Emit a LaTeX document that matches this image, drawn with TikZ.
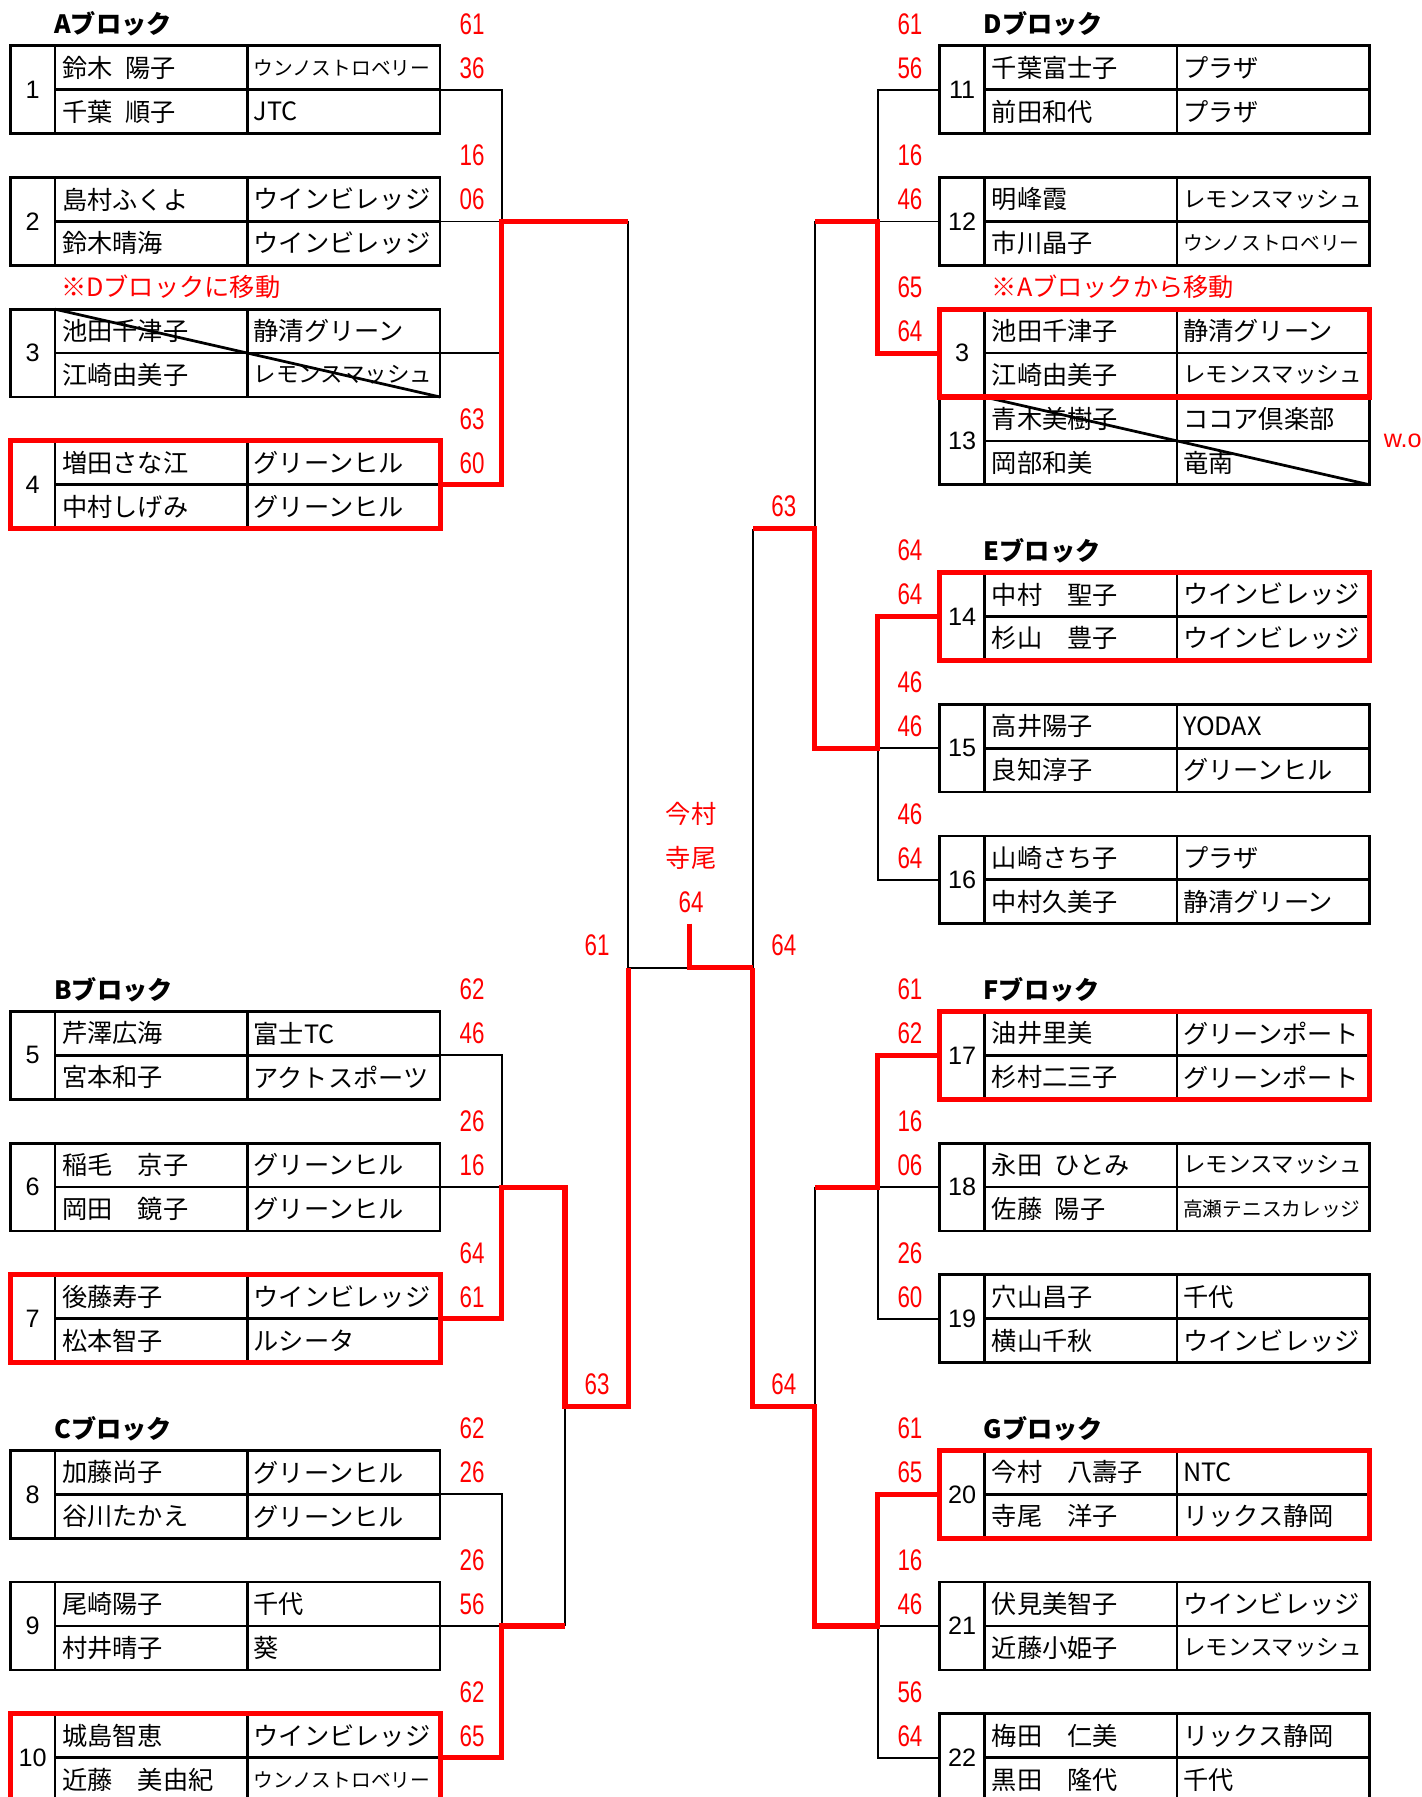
\documentclass[tikz,border=0pt]{standalone}
\usepackage{fontspec}
\setmainfont{Noto Sans CJK JP}
\newfontfamily\scorefont[FakeStretch=0.75]{Liberation Sans}
\newfontfamily\numfont{Liberation Sans}

\tikzset{
  boxline/.style={line width=1.2pt, black},
  tree/.style={line width=0.8pt, black},
  win/.style={line width=2.2pt, red},
  winbox/.style={line width=2.2pt, red},
  nametxt/.style={anchor=west, inner sep=0pt, font=\fontsize{11}{12}\selectfont},
  clubtxt/.style={anchor=west, inner sep=0pt, font=\fontsize{11}{12}\selectfont},
  numtxt/.style={inner sep=0pt, font=\numfont\fontsize{11}{12}\selectfont},
  score/.style={inner sep=0pt, text=red, font=\scorefont\fontsize{13}{14}\selectfont},
  blockhead/.style={anchor=west, inner sep=0pt, font=\bfseries\fontsize{11}{12}\selectfont},
  note/.style={anchor=west, inner sep=0pt, text=red, font=\fontsize{11}{12}\selectfont},
}

\newcommand{\clubS}{\fontsize{8.6}{9}\selectfont}
\newcommand{\clubM}{\fontsize{9.8}{10}\selectfont}
\newcommand{\gap}{\hspace{0.5em}}

% one pair: id, left x, top row, number, name/club (1st), name/club (2nd)
\newcommand{\entry}[8]{%
  \draw[boxline] (#2,#3) rectangle (#2+375,#3+2);
  \draw[boxline] (#2+39,#3) -- (#2+39,#3+2)
                 (#2+207,#3) -- (#2+207,#3+2)
                 (#2+39,#3+1) -- (#2+375,#3+1);
  \node[numtxt] (#1-no) at (#2+19.5,#3+1) {#4};
  \node[nametxt] (#1-a) at (#2+45,#3+0.5) {#5};
  \node[clubtxt] (#1-ac) at (#2+212,#3+0.5) {#6};
  \node[nametxt] (#1-b) at (#2+45,#3+1.5) {#7};
  \node[clubtxt] (#1-bc) at (#2+212,#3+1.5) {#8};
  \coordinate (#1-nw) at (#2,#3);
  \coordinate (#1-in) at (#2+39,#3);
  \coordinate (#1-se) at (#2+375,#3+2);
  \coordinate (#1-w) at (#2,#3+1);
  \coordinate (#1-e) at (#2+375,#3+1);
}

\begin{document}
\begin{tikzpicture}[x=0.5pt, y=-19.15pt]

    \useasboundingbox (0,-1.0444) rectangle (1240.8,39.896);

    % Block headers
    \node[blockhead] (hA) at (47,-0.5) {Aブロック};
    \node[blockhead] (hB) at (47,21.5) {Bブロック};
    \node[blockhead] (hC) at (47,31.5) {Cブロック};
    \node[blockhead] (hD) at (858,-0.5) {Dブロック};
    \node[blockhead] (hE) at (858,11.5) {Eブロック};
    \node[blockhead] (hF) at (858,21.5) {Fブロック};
    \node[blockhead] (hG) at (858,31.5) {Gブロック};

    % Left side pairs
    \entry{p1}{9}{0}{1}{鈴木\gap 陽子}{{\clubS ウンノストロベリー}}{千葉\gap 順子}{JTC}
    \entry{p2}{9}{3}{2}{島村ふくよ}{ウインビレッジ}{鈴木晴海}{ウインビレッジ}
    \entry{p3}{9}{6}{3}{池田千津子}{静清グリーン}{江崎由美子}{{\clubM レモンスマッシュ}}
    \entry{p4}{9}{9}{4}{増田さな江}{グリーンヒル}{中村しげみ}{グリーンヒル}
    \entry{p5}{9}{22}{5}{芹澤広海}{富士TC}{宮本和子}{アクトスポーツ}
    \entry{p6}{9}{25}{6}{稲毛　京子}{グリーンヒル}{岡田　鏡子}{グリーンヒル}
    \entry{p7}{9}{28}{7}{後藤寿子}{ウインビレッジ}{松本智子}{ルシータ}
    \entry{p8}{9}{32}{8}{加藤尚子}{グリーンヒル}{谷川たかえ}{グリーンヒル}
    \entry{p9}{9}{35}{9}{尾崎陽子}{千代}{村井晴子}{葵}
    \entry{p10}{9}{38}{10}{城島智恵}{ウインビレッジ}{近藤　美由紀}{{\clubS ウンノストロベリー}}

    % Right side pairs
    \entry{p11}{820}{0}{11}{千葉富士子}{プラザ}{前田和代}{プラザ}
    \entry{p12}{820}{3}{12}{明峰霞}{{\clubM レモンスマッシュ}}{市川晶子}{{\clubS ウンノストロベリー}}
    \entry{p3r}{820}{6}{3}{池田千津子}{静清グリーン}{江崎由美子}{{\clubM レモンスマッシュ}}
    \entry{p13}{820}{8}{13}{青木美樹子}{ココア倶楽部}{岡部和美}{竜南}
    \entry{p14}{820}{12}{14}{中村　聖子}{ウインビレッジ}{杉山　豊子}{ウインビレッジ}
    \entry{p15}{820}{15}{15}{高井陽子}{YODAX}{良知淳子}{グリーンヒル}
    \entry{p16}{820}{18}{16}{山崎さち子}{プラザ}{中村久美子}{静清グリーン}
    \entry{p17}{820}{22}{17}{油井里美}{グリーンポート}{杉村二三子}{グリーンポート}
    \entry{p18}{820}{25}{18}{永田\gap ひとみ}{{\clubM レモンスマッシュ}}{佐藤\gap 陽子}{{\clubS 高瀬テニスカレッジ}}
    \entry{p19}{820}{28}{19}{穴山昌子}{千代}{横山千秋}{ウインビレッジ}
    \entry{p20}{820}{32}{20}{今村　八壽子}{NTC}{寺尾　洋子}{リックス静岡}
    \entry{p21}{820}{35}{21}{伏見美智子}{ウインビレッジ}{近藤小姫子}{{\clubM レモンスマッシュ}}
    \entry{p22}{820}{38}{22}{梅田　仁美}{リックス静岡}{黒田　隆代}{千代}

    % Withdrawn pairs
    \draw[boxline] (p3-in) -- (p3-se);
    \draw[boxline] (p13-in) -- (p13-se);
    \node[note] (moveA) at (53,5.5) {※Dブロックに移動};
    \node[note] (moveD) at (865,5.5) {※Aブロックから移動};
    \node[score, font=\numfont\fontsize{11}{12}\selectfont] (wo) at (1224,9) {w.o};

    % Junctions
    \coordinate (jA) at (438,4);
    \coordinate (jB) at (438,26);
    \coordinate (jC) at (438,36);
    \coordinate (qB) at (493,26);
    \coordinate (qC) at (493,36);
    \coordinate (qBC) at (493,31);
    \coordinate (sA) at (548,4);
    \coordinate (sL) at (548,31);
    \coordinate (fL) at (548,21);
    \coordinate (fM) at (602,21);
    \coordinate (stub) at (602,20);
    \coordinate (fR) at (657,21);
    \coordinate (sR) at (657,11);
    \coordinate (tR) at (657,31);
    \coordinate (jD) at (766,4);
    \coordinate (jE) at (766,16);
    \coordinate (jF) at (766,26);
    \coordinate (jG) at (766,36);
    \coordinate (qD) at (711,4);
    \coordinate (qE) at (711,16);
    \coordinate (qDE) at (711,11);
    \coordinate (qF) at (711,26);
    \coordinate (qG) at (711,36);
    \coordinate (qFG) at (711,31);

    % Bracket, left
    \draw[tree] (p1-e) -| (jA) -- (p2-e);
    \draw[tree] (p3-e) -| (jA);
    \draw[tree] (sA) -- (fL) -- (fM);
    \draw[tree] (p5-e) -| (jB) -- (p6-e);
    \draw[tree] (p8-e) -| (jC) -- (p9-e);
    \draw[tree] (qC) -- (qBC);

    % Bracket, right
    \draw[tree] (p11-w) -| (jD) -- (p12-w);
    \draw[tree] (qD) -- (qDE);
    \draw[tree] (p16-w) -| (jE) -- (p15-w);
    \draw[tree] (sR) -- (fR);
    \draw[tree] (p19-w) -| (jF) -- (p18-w);
    \draw[tree] (qF) -- (qFG);
    \draw[tree] (p22-w) -| (jG) -- (p21-w);

    % Winners
    \draw[win] (p4-e) -| (jA) -- (sA);
    \draw[win] (p7-e) -| (jB) -- (qB) -- (qBC) -- (sL) -- (fL);
    \draw[win] (p10-e) -| (jC) -- (qC);
    \draw[win] (p3r-w) -| (jD) -- (qD);
    \draw[win] (p14-w) -| (jE) -- (qE) -- (qDE) -- (sR);
    \draw[win] (p17-w) -| (jF) -- (qF);
    \draw[win] (p20-w) -| (jG) -- (qG) -- (qFG) -- (tR) -- (fR);
    \draw[win] (stub) -- (fM) -- (fR);
    \foreach \p in {p4,p7,p10,p3r,p14,p17,p20}
        \draw[winbox] (\p-nw) rectangle (\p-se);

    % Scores
    \foreach \r/\s [count=\i] in {-1/61, 0/36, 2/16, 3/06, 8/63, 9/60,
            21/62, 22/46, 24/26, 25/16, 27/64, 28/61,
            31/62, 32/26, 34/26, 35/56, 37/62, 38/65}
        \node[score] (sl\i) at (412,\r+0.5) {\s};
    \foreach \r/\s [count=\i] in {-1/61, 0/56, 2/16, 3/46, 5/65, 6/64,
            11/64, 12/64, 14/46, 15/46, 17/46, 18/64,
            21/61, 22/62, 24/16, 25/06, 27/26, 28/60,
            31/61, 32/65, 34/16, 35/46, 37/56, 38/64}
        \node[score] (sr\i) at (794,\r+0.5) {\s};
    \node[score] (sc1) at (521,20.5) {61};
    \node[score] (sc2) at (684,20.5) {64};
    \node[score] (sc3) at (521,30.5) {63};
    \node[score] (sc4) at (684,30.5) {64};
    \node[score] (sc5) at (684,10.5) {63};

    % Champions
    \node[score, font=\fontsize{11}{12}\selectfont] (ch1) at (603,17.5) {今村};
    \node[score, font=\fontsize{11}{12}\selectfont] (ch2) at (603,18.5) {寺尾};
    \node[score] (ch3) at (603,19.5) {64};

\end{tikzpicture}
\end{document}
